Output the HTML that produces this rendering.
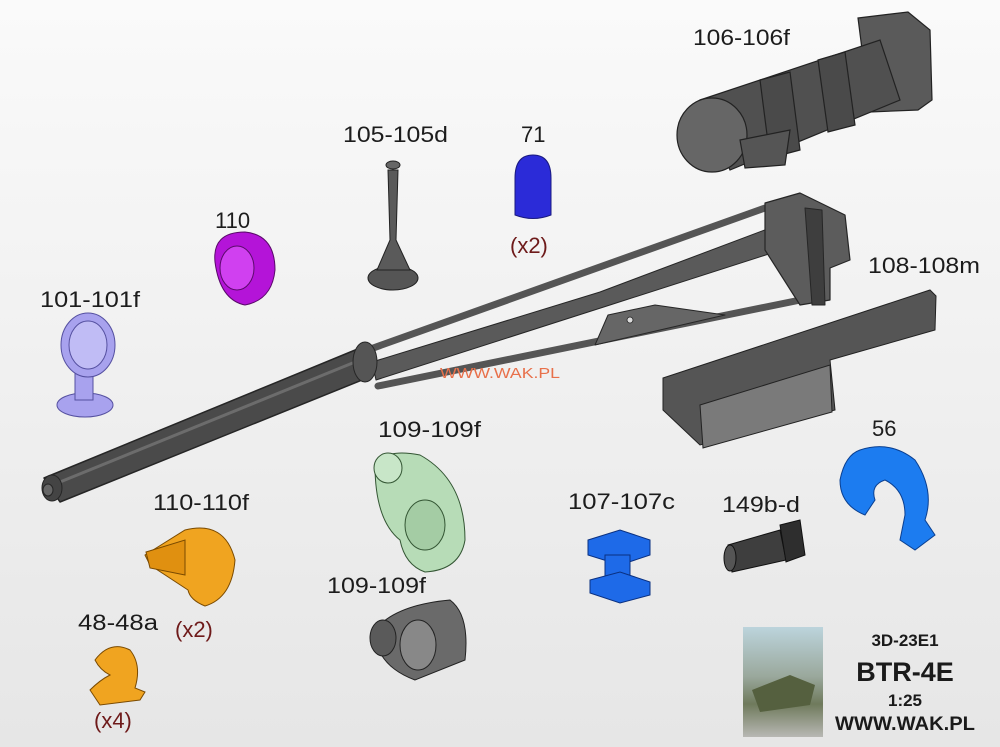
<!DOCTYPE html>
<html><head><meta charset="utf-8"><style>
html,body{margin:0;padding:0;width:1000px;height:747px;overflow:hidden}
body{background:linear-gradient(180deg,#fafafa 0%,#f2f2f2 40%,#e6e6e6 100%)}
svg{display:block}
text{font-family:"Liberation Sans",Arial,sans-serif}
</style></head><body>
<svg width="1000" height="747" viewBox="0 0 1000 747" xmlns="http://www.w3.org/2000/svg">
<defs>
<linearGradient id="thumb" x1="0" y1="0" x2="0" y2="1"><stop offset="0" stop-color="#bcd4dc"/><stop offset="0.45" stop-color="#9aa89c"/><stop offset="0.7" stop-color="#6f7a5c"/><stop offset="1" stop-color="#b8b8b4"/></linearGradient>
</defs>

<!-- 106 cylinder -->
<g stroke="#222" stroke-width="1.2">
<path d="M858 18 L908 12 L930 30 L932 100 L918 110 L870 112 Z" fill="#5a5a5a"/>
<path d="M700 100 L880 40 L900 100 L730 170 Z" fill="#505050"/>
<ellipse cx="712" cy="135" rx="35" ry="37" fill="#666"/>
<path d="M760 80 L790 72 L800 150 L770 158 Z" fill="#4a4a4a"/>
<path d="M818 60 L845 52 L855 125 L828 132 Z" fill="#4a4a4a"/>
<path d="M740 140 L790 130 L785 165 L745 168 Z" fill="#555"/>
</g>

<!-- boom -->
<g stroke="#262626" stroke-linejoin="round">
<path d="M44 478 L360 348 L372 376 L60 502 Z" fill="#4a4a4a" stroke-width="1.5"/>
<path d="M60 482 L360 360" stroke="#6c6c6c" stroke-width="3" fill="none"/>
<!-- upper rod -->
<path d="M362 352 L765 208" stroke="#555" stroke-width="7" fill="none" stroke-linecap="round"/>
<!-- central tube -->
<path d="M372 362 L600 292 L770 228 L775 252 L610 305 L376 380 Z" fill="#5a5a5a" stroke-width="1"/>
<!-- lower rod -->
<path d="M378 386 L820 296" stroke="#555" stroke-width="7" fill="none" stroke-linecap="round"/>
<!-- triangle plate -->
<path d="M608 315 L655 305 L725 315 L595 345 Z" fill="#666" stroke-width="1"/>
<circle cx="630" cy="320" r="3" fill="#ddd" stroke-width="0.8"/>
<!-- end bracket -->
<path d="M765 203 L800 193 L845 215 L850 260 L830 268 L830 300 L800 305 L765 250 Z" fill="#5c5c5c" stroke-width="1.2"/>
<path d="M805 208 L822 210 L825 305 L812 305 Z" fill="#3e3e3e" stroke-width="1"/>
<ellipse cx="365" cy="362" rx="12" ry="20" fill="#555"/>
<ellipse cx="52" cy="488" rx="10" ry="13" fill="#444"/>
<ellipse cx="48" cy="490" rx="5" ry="6" fill="#666"/>
</g>

<!-- 105 antenna -->
<g stroke="#222" stroke-width="1">
<ellipse cx="393" cy="278" rx="25" ry="12" fill="#555"/>
<path d="M388 170 L398 170 L396 240 L410 270 L377 270 L390 240 Z" fill="#5a5a5a"/>
<ellipse cx="393" cy="165" rx="7" ry="4" fill="#666"/>
</g>

<!-- 71 blue -->
<path d="M515 215 L515 178 Q515 155 533 155 Q551 155 551 178 L551 215 Q533 222 515 215 Z" fill="#2b2bd8" stroke="#1a1a80"/>

<!-- 110 purple -->
<path d="M215 262 Q212 232 245 232 Q275 235 275 270 Q272 300 245 305 Q220 300 215 262 Z" fill="#b414d8" stroke="#5a0a6a"/>
<ellipse cx="237" cy="268" rx="17" ry="22" fill="#d040f0" stroke="#5a0a6a"/>

<!-- 101 lilac -->
<g fill="#a8a2ee" stroke="#5550a0">
<ellipse cx="85" cy="405" rx="28" ry="12"/>
<rect x="75" y="370" width="18" height="30"/>
<ellipse cx="88" cy="345" rx="27" ry="32"/>
<ellipse cx="88" cy="345" rx="19" ry="24" fill="#c0bcf5"/>
</g>

<!-- 108 box -->
<g stroke="#222">
<path d="M663 378 L930 290 L936 296 L935 330 L830 360 L835 410 L700 445 L663 410 Z" fill="#555"/>
<path d="M700 405 L830 365 L832 412 L703 448 Z" fill="#7a7a7a"/>
</g>

<!-- 56 blue hook -->
<path d="M860 450 Q890 440 915 460 Q935 490 925 520 L935 535 L915 550 L900 540 L905 515 Q905 490 885 480 Q870 485 875 500 L865 515 Q840 505 840 480 Q845 455 860 450 Z" fill="#1c7cf0" stroke="#0a3f90"/>

<!-- 109 green -->
<g stroke="#335533">
<path d="M375 465 Q385 448 420 455 Q465 480 465 540 Q460 570 425 572 Q405 565 400 540 Q375 520 375 465 Z" fill="#b7dcb7"/>
<ellipse cx="388" cy="468" rx="14" ry="15" fill="#c8e6c8"/>
<ellipse cx="425" cy="525" rx="20" ry="25" fill="#a4cca4"/>
</g>

<!-- 109 gray -->
<g stroke="#222">
<path d="M375 630 Q395 605 450 600 Q470 615 465 660 L415 680 Q375 665 375 630 Z" fill="#6a6a6a"/>
<ellipse cx="383" cy="638" rx="13" ry="18" fill="#5a5a5a"/>
<ellipse cx="418" cy="645" rx="18" ry="25" fill="#888"/>
</g>

<!-- 110f orange -->
<g stroke="#7a4a00">
<path d="M185 530 Q225 520 235 560 Q232 598 205 606 Q190 600 188 590 L150 565 L145 555 Z" fill="#f0a420"/>
<path d="M146 552 L185 540 L185 575 L150 568 Z" fill="#e09010"/>
</g>

<!-- 48 orange -->
<path d="M95 660 Q110 640 130 650 Q142 665 135 688 L145 692 L140 700 L100 705 L90 690 Q100 680 110 675 Q100 670 95 660 Z" fill="#f0a420" stroke="#7a4a00"/>

<!-- 107 blue -->
<g fill="#1e6ae8" stroke="#0a3080">
<path d="M588 540 L620 530 L650 540 L650 555 L620 565 L588 555 Z"/>
<rect x="605" y="555" width="25" height="28"/>
<path d="M590 580 L620 572 L650 582 L650 595 L620 603 L590 593 Z"/>
</g>

<!-- 149 -->
<g stroke="#111">
<path d="M728 545 L780 530 L786 560 L732 572 Z" fill="#3e3e3e"/>
<path d="M780 525 L800 520 L805 555 L786 562 Z" fill="#2e2e2e"/>
<ellipse cx="730" cy="558" rx="6" ry="13" fill="#555"/>
</g>

<!-- labels -->
<g fill="#1c1c1c" font-size="22">
<text x="693" y="45" textLength="97" lengthAdjust="spacingAndGlyphs">106-106f</text>
<text x="343" y="142" textLength="105" lengthAdjust="spacingAndGlyphs">105-105d</text>
<text x="521" y="142">71</text>
<text x="215" y="228">110</text>
<text x="40" y="307" textLength="100" lengthAdjust="spacingAndGlyphs">101-101f</text>
<text x="868" y="273" textLength="112" lengthAdjust="spacingAndGlyphs">108-108m</text>
<text x="378" y="437" textLength="103" lengthAdjust="spacingAndGlyphs">109-109f</text>
<text x="872" y="436">56</text>
<text x="153" y="510" textLength="96" lengthAdjust="spacingAndGlyphs">110-110f</text>
<text x="568" y="509" textLength="107" lengthAdjust="spacingAndGlyphs">107-107c</text>
<text x="722" y="512" textLength="78" lengthAdjust="spacingAndGlyphs">149b-d</text>
<text x="327" y="593" textLength="99" lengthAdjust="spacingAndGlyphs">109-109f</text>
<text x="78" y="630" textLength="80" lengthAdjust="spacingAndGlyphs">48-48a</text>
</g>
<g fill="#6e1a1a" font-size="22">
<text x="510" y="253">(x2)</text>
<text x="175" y="637">(x2)</text>
<text x="94" y="728">(x4)</text>
</g>
<text x="440" y="378" font-size="15" fill="#e8704a" textLength="120" lengthAdjust="spacingAndGlyphs">WWW.WAK.PL</text>

<!-- thumbnail -->
<rect x="743" y="627" width="80" height="110" fill="url(#thumb)"/>
<path d="M752 690 L790 675 L815 685 L810 705 L760 712 Z" fill="#55603f"/>

<g fill="#1a1a1a" font-weight="bold" text-anchor="middle">
<text x="905" y="646" font-size="17">3D-23E1</text>
<text x="905" y="681" font-size="27">BTR-4E</text>
<text x="905" y="706" font-size="17">1:25</text>
<text x="905" y="730" font-size="19" textLength="140" lengthAdjust="spacingAndGlyphs">WWW.WAK.PL</text>
</g>
</svg>
</body></html>
